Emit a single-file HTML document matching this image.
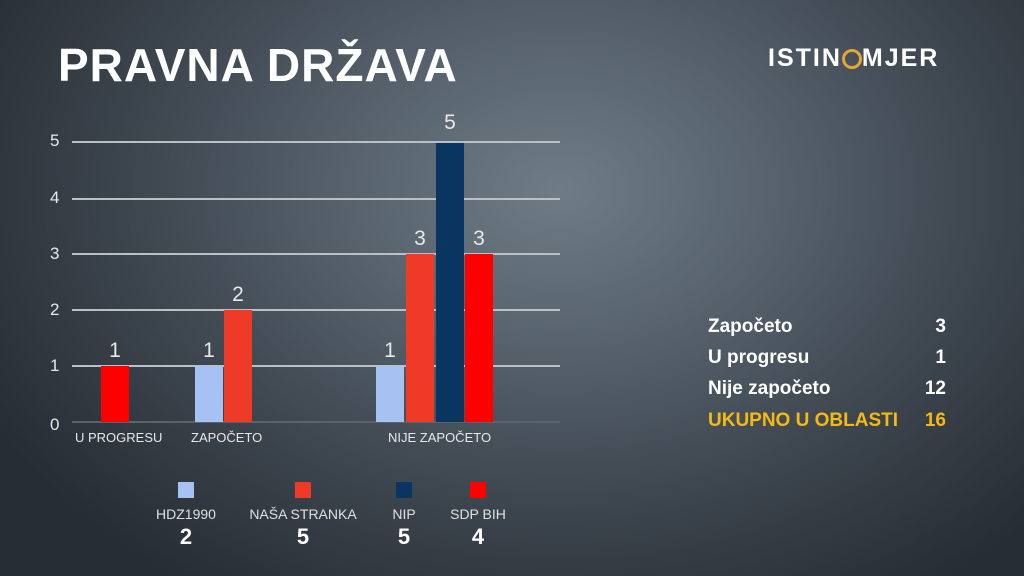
<!DOCTYPE html>
<html><head><meta charset="utf-8"><style>
body{margin:0;width:1024px;height:576px;overflow:hidden;font-family:"Liberation Sans",sans-serif;
background:radial-gradient(ellipse 650px 480px at 560px 190px,#6f7c86 0%,#55606a 35%,#3a424b 70%,#272d34 100%);position:relative;color:#fff}
.a{position:absolute}
.g{position:absolute;left:72px;width:488px;height:2px;background:#b9c0c6}
.yl{position:absolute;left:50px;font-size:17px;color:#e8e8e8}
.b{position:absolute;width:28px}
.v{position:absolute;width:28px;text-align:center;font-size:21px;color:#e8e8e8}
.x{position:absolute;font-size:13px;color:#e8e8e8;top:430px}
.lg{position:absolute;top:482px;width:16px;height:16px}
.ln{position:absolute;top:506px;font-size:14px;color:#e0e0e0;text-align:center;width:140px}
.lv{position:absolute;top:524px;font-size:22px;font-weight:bold;text-align:center;width:140px}
.r{position:absolute;left:708px;width:238px;font-size:19px;font-weight:bold;display:flex;justify-content:space-between}
</style></head><body>
<div class="a" style="left:58px;top:38px;font-size:46px;font-weight:bold;letter-spacing:1px">PRAVNA DRŽAVA</div>
<div class="a" style="left:768px;top:44px;font-size:25px;font-weight:bold;letter-spacing:2px">ISTIN<span style="display:inline-block;width:20px;height:20px;border:3px solid #e5a632;border-radius:50%;vertical-align:-3px;box-sizing:border-box"></span>MJER</div>

<div class="g" style="top:141px"></div><div class="g" style="top:198px"></div><div class="g" style="top:253px"></div><div class="g" style="top:309px"></div><div class="g" style="top:365px"></div><div class="g" style="top:421px;background:#5a636b"></div>
<div class="yl" style="top:131px">5</div><div class="yl" style="top:188px">4</div><div class="yl" style="top:244px">3</div><div class="yl" style="top:300px">2</div><div class="yl" style="top:356px">1</div><div class="yl" style="top:415px">0</div>

<div class="b" style="left:101px;top:366px;height:56px;background:#ff0000"></div><div class="v" style="left:101px;top:339px">1</div>
<div class="b" style="left:195px;top:366px;height:56px;background:#a5c2f2"></div><div class="v" style="left:195px;top:339px">1</div>
<div class="b" style="left:224px;top:310px;height:112px;background:#f03a28"></div><div class="v" style="left:224px;top:283px">2</div>
<div class="b" style="left:376px;top:366px;height:56px;background:#a5c2f2"></div><div class="v" style="left:376px;top:339px">1</div>
<div class="b" style="left:406px;top:254px;height:168px;background:#f03a28"></div><div class="v" style="left:406px;top:227px">3</div>
<div class="b" style="left:436px;top:143px;height:279px;background:#0a3560"></div><div class="v" style="left:436px;top:111px">5</div>
<div class="b" style="left:465px;top:254px;height:168px;background:#ff0000"></div><div class="v" style="left:465px;top:227px">3</div>

<div class="x" style="left:75px">U PROGRESU</div><div class="x" style="left:191px">ZAPOČETO</div><div class="x" style="left:388px">NIJE ZAPOČETO</div>

<div class="lg" style="left:178px;background:#a5c2f2"></div><div class="ln" style="left:116px">HDZ1990</div><div class="lv" style="left:116px">2</div>
<div class="lg" style="left:295px;background:#f03a28"></div><div class="ln" style="left:233px">NAŠA STRANKA</div><div class="lv" style="left:233px">5</div>
<div class="lg" style="left:396px;background:#0a3560"></div><div class="ln" style="left:334px">NIP</div><div class="lv" style="left:334px">5</div>
<div class="lg" style="left:470px;background:#ff0000"></div><div class="ln" style="left:408px">SDP BIH</div><div class="lv" style="left:408px">4</div>

<div class="r" style="top:316px"><span>Započeto</span><span>3</span></div>
<div class="r" style="top:347px"><span>U progresu</span><span>1</span></div>
<div class="r" style="top:378px"><span>Nije započeto</span><span>12</span></div>
<div class="r" style="top:410px;color:#f5b914"><span>UKUPNO U OBLASTI</span><span>16</span></div>
</body></html>
